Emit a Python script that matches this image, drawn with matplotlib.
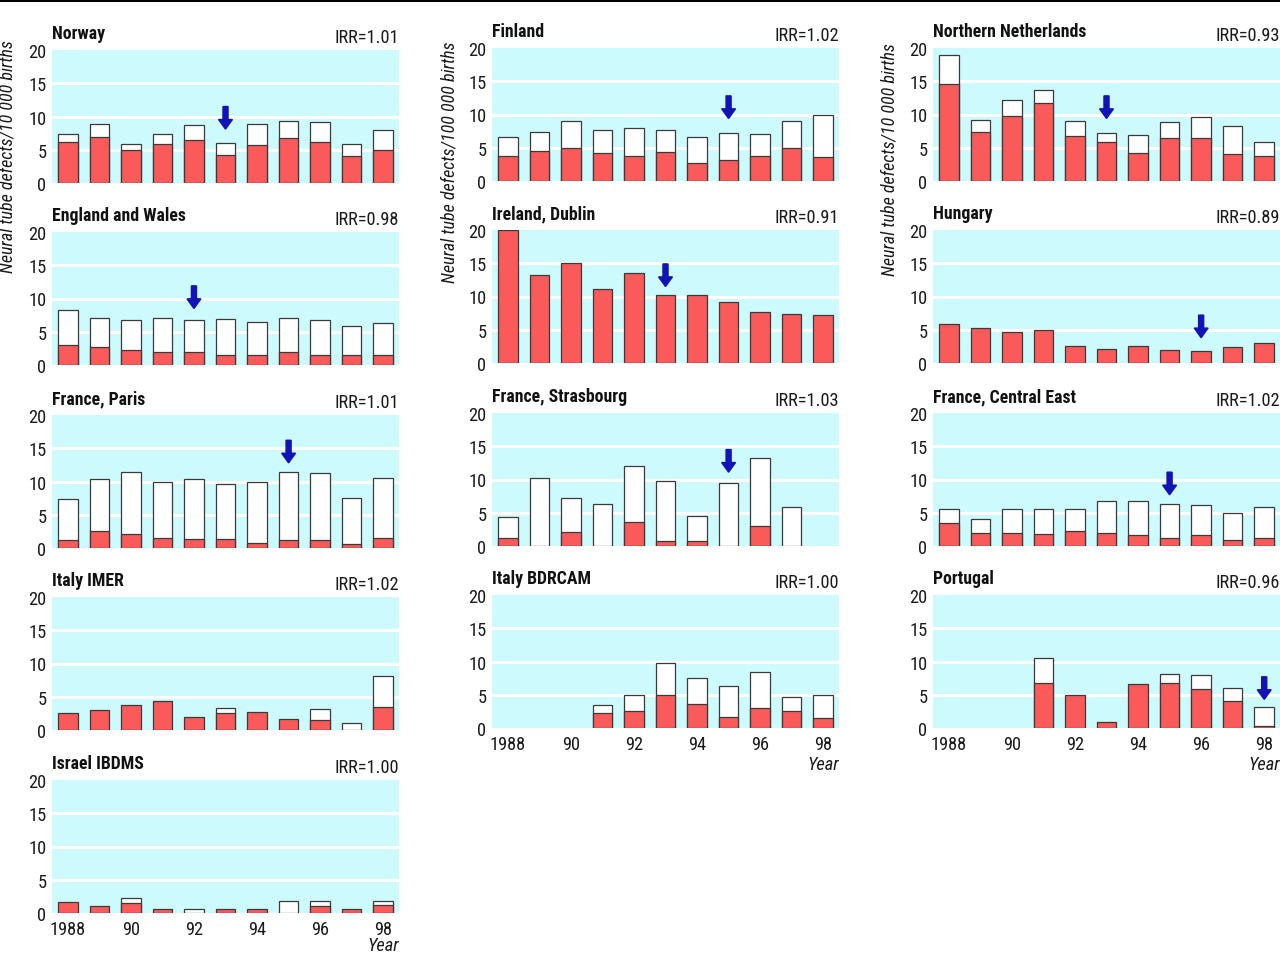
import numpy as np
import matplotlib
matplotlib.use("Agg")
import matplotlib.pyplot as plt
from matplotlib.lines import Line2D
from matplotlib.patches import FancyArrow
from matplotlib import font_manager as fm

_avail = {f.name for f in fm.fontManager.ttflist}
_cands = ['Roboto Condensed', 'Archivo Narrow', 'PT Sans Narrow', 'Pragati Narrow',
          'IBM Plex Sans Condensed', 'Fira Sans Condensed', 'Sofia Sans Semi Condensed']
_font = next((c for c in _cands if c in _avail), 'DejaVu Sans')
plt.rcParams['font.family'] = [_font, 'DejaVu Sans']

nan = np.nan
years = list(range(1988, 1999))
xtick_years = [1988, 1990, 1992, 1994, 1996, 1998]
xtick_labels = ['1988', '90', '92', '94', '96', '98']
yticks = [0, 5, 10, 15, 20]

# total height (red + white) and red part of each bar
norway_total = [7.3, 8.8, 5.9, 7.4, 8.7, 6.0, 8.8, 9.3, 9.1, 5.9, 7.9]
norway_red   = [6.2, 6.9, 5.0, 5.9, 6.5, 4.2, 5.7, 6.8, 6.1, 4.1, 5.0]
england_total = [8.3, 7.0, 6.8, 7.0, 6.8, 6.9, 6.4, 7.0, 6.8, 5.9, 6.3]
england_red   = [3.0, 2.7, 2.2, 1.9, 1.9, 1.5, 1.5, 1.9, 1.5, 1.5, 1.5]
paris_total = [7.4, 10.4, 11.4, 10.0, 10.4, 9.6, 10.0, 11.4, 11.3, 7.5, 10.5]
paris_red   = [1.2, 2.6, 2.1, 1.5, 1.3, 1.3, 0.75, 1.2, 1.2, 0.65, 1.5]
imer_total = [2.6, 3.0, 3.8, 4.4, 2.0, 3.3, 2.7, 1.6, 3.1, 1.1, 8.1]
imer_red   = [2.6, 3.0, 3.8, 4.4, 2.0, 2.5, 2.7, 1.6, 1.5, 0.0, 3.5]
israel_total = [1.66, 1.1, 2.2, 0.6, 0.6, 0.6, 0.6, 1.76, 1.76, 0.6, 1.86]
israel_red   = [1.66, 1.1, 1.5, 0.6, 0.0, 0.6, 0.6, 0.0, 1.1, 0.6, 1.2]
finland_total = [6.6, 7.4, 9.0, 7.7, 8.0, 7.7, 6.6, 7.2, 7.0, 9.0, 10.0]
finland_red   = [3.8, 4.5, 5.0, 4.2, 3.8, 4.4, 2.7, 3.1, 3.7, 5.0, 3.6]
dublin_total = [20.0, 13.2, 15.0, 11.1, 13.6, 10.3, 10.3, 9.1, 7.7, 7.4, 7.2]
dublin_red   = [20.0, 13.2, 15.0, 11.1, 13.6, 10.3, 10.3, 9.1, 7.7, 7.4, 7.2]
strasbourg_total = [4.3, 10.3, 7.2, 6.3, 12.0, 9.7, 4.5, 9.5, 13.3, 5.9, nan]
strasbourg_red   = [1.2, 0.0, 2.1, 0.0, 3.6, 0.7, 0.7, 0.0, 3.0, 0.0, nan]
bdrcam_total = [nan, nan, nan, 3.4, 5.0, 9.7, 7.5, 6.3, 8.4, 4.7, 5.0]
bdrcam_red   = [nan, nan, nan, 2.2, 2.5, 5.0, 3.6, 1.7, 3.0, 2.5, 1.5]
nneth_total = [18.9, 9.1, 12.2, 13.7, 9.0, 7.2, 6.9, 8.9, 9.6, 8.3, 5.8]
nneth_red   = [14.6, 7.4, 9.7, 11.7, 6.8, 5.8, 4.2, 6.5, 6.4, 4.1, 3.8]
hungary_total = [5.8, 5.2, 4.6, 4.9, 2.5, 2.1, 2.5, 1.9, 1.8, 2.4, 3.0]
hungary_red   = [5.8, 5.2, 4.6, 4.9, 2.5, 2.1, 2.5, 1.9, 1.8, 2.4, 3.0]
centraleast_total = [5.6, 4.1, 5.5, 5.6, 5.5, 6.8, 6.7, 6.3, 6.1, 5.0, 5.9]
centraleast_red   = [3.4, 1.9, 1.9, 1.8, 2.2, 1.9, 1.6, 1.2, 1.7, 0.9, 1.2]
portugal_total = [nan, nan, nan, 10.6, 5.0, 0.85, 6.6, 8.1, 8.0, 6.0, 3.1]
portugal_red   = [nan, nan, nan, 6.8, 5.0, 0.85, 6.6, 6.7, 5.8, 4.1, 0.25]

names = ['Norway', 'England and Wales', 'France, Paris', 'Italy IMER', 'Israel IBDMS',
         'Finland', 'Ireland, Dublin', 'France, Strasbourg', 'Italy BDRCAM',
         'Northern Netherlands', 'Hungary', 'France, Central East', 'Portugal']
irr = ['1.01', '0.98', '1.01', '1.02', '1.00',
       '1.02', '0.91', '1.03', '1.00',
       '0.93', '0.89', '1.02', '0.96']
totals = [norway_total, england_total, paris_total, imer_total, israel_total,
          finland_total, dublin_total, strasbourg_total, bdrcam_total,
          nneth_total, hungary_total, centraleast_total, portugal_total]
reds = [norway_red, england_red, paris_red, imer_red, israel_red,
        finland_red, dublin_red, strasbourg_red, bdrcam_red,
        nneth_red, hungary_red, centraleast_red, portugal_red]
# arrow: year and value of the arrow tip (None = no arrow)
arrow_year = [1993, 1992, 1995, None, None, 1995, 1993, 1995, None, 1993, 1996, 1995, 1998]
arrow_tip = [8.1, 8.5, 12.8, None, None, 9.4, 11.5, 11.1, None, 9.4, 3.8, 7.7, 4.3]

ylabels = ['Neural tube defects/10 000 births',
           'Neural tube defects/100 000 births',
           'Neural tube defects/10 000 births']

# layout (pixels)
W, H = 1280, 954
col_left = [52, 492, 933]
col_width = 347
col_tops = [[51, 233, 416, 598, 781],
            [49, 231, 414, 596],
            [49, 231, 414, 596]]
ax_h = 133
panel_col = [0, 0, 0, 0, 0, 1, 1, 1, 1, 2, 2, 2, 2]
panel_row = [0, 1, 2, 3, 4, 0, 1, 2, 3, 0, 1, 2, 3]
bottom_panels = {4, 8, 12}
year_label_y = {4: -0.28, 8: -0.305, 12: -0.305}

RED = '#fa5a5a'
CYAN = '#cdfafc'
EDGE = '#3a3a3a'
BLUE = '#1212b5'
TXT = '#1a1a1a'

fig = plt.figure(figsize=(W / 100, H / 100), dpi=100)
fig.add_artist(Line2D([0, 1], [1 - 1.0 / H, 1 - 1.0 / H], color='black', lw=2.2))

for i in range(len(names)):
    c, r = panel_col[i], panel_row[i]
    top = col_tops[c][r]
    ax = fig.add_axes([col_left[c] / W, 1 - (top + ax_h) / H, col_width / W, ax_h / H])
    ax.set_facecolor(CYAN)
    for s in ax.spines.values():
        s.set_visible(False)
    ax.set_xlim(1987.5, 1998.5)
    ax.set_ylim(0, 20)
    ax.set_yticks(yticks)
    ax.set_yticklabels([str(v) for v in yticks], fontsize=13.2, color=TXT)
    ax.tick_params(axis='both', length=0, pad=4)
    for g in [5, 10, 15]:
        ax.axhline(g, color='white', lw=2.2, zorder=1)
    ax.set_xticks(xtick_years)
    if i in bottom_panels:
        ax.set_xticklabels(xtick_labels, fontsize=13.2, color=TXT)
        ax.tick_params(axis='x', pad=5)
        ax.text(1, year_label_y[i], 'Year', transform=ax.transAxes, ha='right',
                va='baseline', fontsize=13.2, style='italic', color=TXT)
    else:
        ax.set_xticklabels([])

    tot = np.array(totals[i], dtype=float)
    red = np.array(reds[i], dtype=float)
    for yr, t, rd in zip(years, tot, red):
        if np.isnan(t):
            continue
        if t > rd:
            ax.bar(yr, t, width=0.62, color='white', edgecolor=EDGE, lw=0.9, zorder=2)
        if rd > 0:
            ax.bar(yr, rd, width=0.62, color=RED, edgecolor=EDGE, lw=0.9, zorder=3)

    if arrow_year[i] is not None:
        length = 3.4
        ax.add_patch(FancyArrow(arrow_year[i], arrow_tip[i] + length, 0, -length,
                                width=0.16, head_width=0.44, head_length=1.45,
                                length_includes_head=True, color=BLUE, zorder=5))

    ax.text(0.0, 1.06, names[i], transform=ax.transAxes, ha='left', va='bottom',
            fontsize=12.8, fontweight='bold', color='#111111')
    ax.text(1.0, 1.03, 'IRR=' + irr[i], transform=ax.transAxes, ha='right', va='bottom',
            fontsize=13.2, color=TXT)

ylab_x = [8, 450, 889]
ylab_y = [157, 162, 160]
for c in range(3):
    fig.text(ylab_x[c] / W, 1 - ylab_y[c] / H, ylabels[c], rotation=90,
             ha='center', va='center', fontsize=13, style='italic', color=TXT)

fig.savefig('out.png', dpi=100)
